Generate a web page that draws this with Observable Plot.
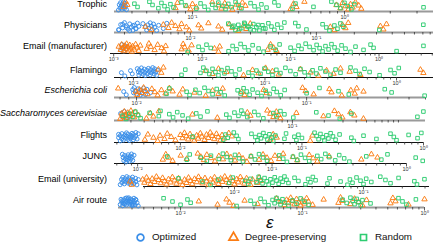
<!DOCTYPE html>
<html><head><meta charset="utf-8">
<script src="https://cdn.jsdelivr.net/npm/d3@7"></script>
<script src="https://cdn.jsdelivr.net/npm/@observablehq/plot@0.6"></script>
<style>
body{margin:0;background:#fff;font-family:"Liberation Sans",Arial,sans-serif;}
#chart{position:relative;width:436px;height:243px;overflow:hidden;background:#fff;}
.row{position:absolute;left:0;}
.lab{position:absolute;left:0;width:107px;text-align:right;font-size:9px;line-height:10px;color:#000;white-space:nowrap;}
.leg{position:absolute;font-size:9.8px;line-height:12px;color:#111;white-space:nowrap;}
</style></head><body><div id="chart"></div>
<script>
// ---------------- data ----------------
const datasets = ["Trophic","Physicians","Email (manufacturer)","Flamingo","Escherichia coli","Saccharomyces cerevisiae","Flights","JUNG","Email (university)","Air route"];
const italicNames = ["Escherichia coli","Saccharomyces cerevisiae"];
const seriesNames = ["Optimized","Degree-preserving","Random"];

// ε values, one list per data set (same order as datasets)
const optimized = [
  [0.0326,0.033,0.0334,0.0336,0.034,0.0344,0.0346,0.035,0.0352,0.0355,0.0357,0.036,0.0363,0.0368],
  [0.0027,0.0028,0.0029,0.003,0.0031,0.0032,0.0033,0.0034,0.0035,0.0036,0.0037,0.0038,0.0039,0.0027,0.0029,0.0031,0.0033,0.0035,0.0037,0.0042,0.0044,0.0045,0.0046,0.0047,0.0048,0.0049,0.005,0.0051,0.0052,0.0054,0.0056,0.0061,0.0065],
  [0.0012,0.00124,0.00128,0.0013,0.00134,0.00138],
  [0.0081,0.0086,0.0095,0.0098,0.0107,0.0109,0.011,0.0111,0.0113,0.0115,0.0117,0.0119,0.0121,0.0122,0.0123,0.0126,0.0128,0.013,0.0132,0.0134,0.0135,0.0137,0.014,0.0142,0.0144,0.0145,0.0147,0.015,0.0152],
  [0.0084,0.0087,0.0095,0.0096,0.0097,0.0099,0.01,0.0102,0.0103,0.0105,0.0106,0.0108,0.011,0.0111,0.0113,0.0115,0.0121],
  [0.0024,0.0025,0.0026,0.0027,0.0028],
  [0.0031,0.0031,0.0032,0.0032,0.0033,0.0033,0.0034,0.0034,0.0035,0.0035,0.0036,0.0036,0.0037,0.0037,0.0038,0.0038,0.0039,0.0039,0.004,0.004,0.0041,0.0041,0.0042,0.0043,0.0043,0.0044,0.0045],
  [0.0077,0.0078,0.0079,0.008,0.0081,0.0082,0.0083,0.0084,0.0085,0.0086,0.0087,0.0088,0.0089,0.009,0.0091,0.0092,0.0094],
  [0.0013,0.00133,0.00134,0.00136,0.00138,0.0014,0.00142,0.00144,0.00146,0.00148,0.0015,0.00152,0.00154,0.00156,0.00158,0.0016,0.00162,0.00164,0.00166,0.00171,0.00172,0.00175,0.0018],
  [0.0032,0.00325,0.0033,0.00335,0.0034,0.00345,0.0035,0.00355,0.0036,0.00365,0.0037,0.00375,0.0038,0.00385,0.0039,0.00395,0.004,0.00405,0.0041,0.00415,0.0042,0.00425,0.0043,0.0044,0.0045,0.0033,0.0035,0.0037,0.0039,0.0041,0.0043,0.0034,0.0036,0.0038,0.004]
];
const degreePreserving = [
  [0.0352,0.0362,0.0373,0.0773,0.0796,0.0914,0.097,0.1,0.106,0.135,0.148,0.155,0.163,0.168,0.183,0.195,0.204,0.213,0.223,0.442,0.462,0.483,0.545,0.885,0.94,0.97,1.016,1.06,1.095,1.13,1.18,1.24,1.29],
  [0.0044,0.0049,0.0061,0.0067,0.0071,0.0076,0.0082,0.0085,0.0093,0.0098,0.0116,0.0122,0.0139,0.0167,0.0179,0.0204,0.0215,0.024,0.0264,0.0278,0.0299,0.129,0.139,0.161,0.17,0.179,0.322,0.34,0.36],
  [0.00114,0.0012,0.00123,0.00126,0.0013,0.00133,0.00137,0.0014,0.00144,0.00148,0.00152,0.00156,0.0016,0.00164,0.0017,0.00177,0.00185,0.00192,0.002,0.00236,0.0025,0.00262,0.0029,0.00314,0.00348,0.0037,0.00387,0.00586,0.0061,0.00634,0.00703,0.0076,0.0138,0.0153,0.0158,0.055,0.0594,0.0643,0.0695],
  [0.0155,0.0163,0.0169,0.0353,0.0399,0.0443,0.0509,0.0687,0.0804,0.0893,0.101,0.114,0.127,0.186,0.222,0.255,0.294,0.332,0.375,0.44,0.532,1.52,1.6],
  [0.0078,0.0099,0.0101,0.0104,0.0107,0.011,0.0113,0.0116,0.0123,0.0128,0.0133,0.014,0.0148,0.0156,0.0163,0.0179,0.0187,0.0219,0.0255,0.028,0.0303,0.0321,0.0415,0.0432,0.0558,0.0582,0.0946,0.0987,0.11,0.136,0.14,0.161,0.182,0.192,0.197,0.216],
  [0.00238,0.00245,0.00255,0.0026,0.00265,0.00272,0.0028,0.0029,0.003,0.0031,0.0032,0.0033,0.00352,0.0042,0.00457,0.00489,0.0055,0.0114,0.0196,0.0376,0.0402,0.058,0.0619,0.0662,0.0706,0.074,0.0771,0.109,0.196,0.249,0.272,0.296,0.352,0.384,0.468],
  [0.0051,0.0054,0.006,0.0065,0.0068,0.0074,0.0078,0.0084,0.0091,0.01,0.0104,0.0108,0.0112,0.0116,0.012,0.0126,0.013,0.0136,0.014,0.0146,0.015,0.0158,0.0164,0.017,0.0176,0.0183,0.019,0.0198,0.0205,0.0213,0.022,0.023,0.025,0.0265,0.055,0.058,0.062,0.117,0.122],
  [0.0154,0.0162,0.017,0.0182,0.0209,0.0232,0.028,0.0295,0.0311,0.0327,0.0351,0.0376,0.0402,0.0431,0.0461,0.0494,0.053,0.0568,0.0608,0.065,0.0697,0.08,0.0857,0.0918,0.0984,0.105,0.113,0.121,0.143,0.154,0.189,0.202,0.217,0.266,0.461,0.548,0.608],
  [0.00155,0.0016,0.00194,0.002,0.00208,0.00215,0.00223,0.0023,0.0024,0.00248,0.00258,0.00268,0.00277,0.00287,0.00297,0.00308,0.00319,0.0033,0.00343,0.00355,0.00368,0.0038,0.00395,0.0041,0.00425,0.0044,0.00456,0.0047,0.0049,0.0051,0.00526,0.0055,0.00565,0.0059,0.00607,0.0063,0.00652,0.0068,0.007,0.0073,0.00752,0.0078,0.00807,0.0084,0.00867,0.009,0.00931,0.0097,0.01,0.0104,0.0107,0.0111,0.0115,0.0119,0.0124,0.0128,0.0133,0.0138,0.015,0.0155,0.016],
  [0.0141,0.0201,0.0238,0.0252,0.0272,0.0335,0.0428,0.0612,0.066,0.0711,0.074,0.0767,0.08,0.0827,0.086,0.0893,0.093,0.0964,0.1,0.104,0.108,0.112,0.121,0.149,0.197,0.205,0.213,0.247,0.267,0.288,0.31,0.335,0.526,0.55,0.578,0.739,1.0]
];
const random = [
  [0.0415,0.0435,0.0521,0.0546,0.0597,0.0625,0.0655,0.0686,0.0716,0.075,0.0847,0.0899,0.106,0.113,0.12,0.127,0.135,0.142,0.148,0.157,0.165,0.172,0.181,0.192,0.201,0.21,0.241,0.256,0.272,0.284,0.307,0.346,0.368,0.455,0.476,0.625,0.82,0.885,0.94,1.0,1.05,1.11,1.16,3.31],
  [0.02,0.0215,0.0228,0.024,0.0254,0.0268,0.0283,0.0299,0.0316,0.0334,0.0353,0.0373,0.0394,0.0416,0.044,0.0464,0.049,0.0527,0.0557,0.022,0.0245,0.027,0.029,0.032,0.0345,0.038,0.068,0.072,0.0834,0.112,0.12,0.127,0.139,0.147,0.155,0.164,0.316,0.706],
  [0.00686,0.00912,0.0101,0.0112,0.0125,0.0199,0.0221,0.0245,0.0272,0.0302,0.0335,0.0372,0.0435,0.0495,0.0594,0.0677,0.0751,0.1,0.111,0.123,0.133,0.148,0.164,0.182,0.197,0.213,0.23,0.248,0.269,0.29,0.314,0.34,0.377,0.418,0.476,0.542,0.668,0.802,0.867,1.58,3.18],
  [0.0232,0.0248,0.0323,0.034,0.0359,0.0378,0.0399,0.042,0.0443,0.0467,0.0492,0.0519,0.0556,0.0597,0.064,0.075,0.0804,0.0861,0.0925,0.0991,0.106,0.114,0.122,0.131,0.143,0.156,0.171,0.186,0.2,0.214,0.23,0.246,0.264,0.288,0.315,0.344,0.375,0.447,0.488,0.523,0.571,0.624,0.743,0.9,0.966,1.04],
  [0.015,0.0156,0.0197,0.0205,0.0222,0.0235,0.0251,0.0265,0.028,0.0296,0.0312,0.033,0.0393,0.0409,0.0426,0.0444,0.0462,0.0481,0.0515,0.0543,0.0574,0.0606,0.064,0.0667,0.0704,0.0743,0.1,0.119,0.154,0.177,0.288,0.316,0.494],
  [0.0025,0.0027,0.0029,0.0031,0.0033,0.0035,0.0037,0.0045,0.0055,0.0057,0.0069,0.0075,0.0082,0.0092,0.0104,0.0124,0.0136,0.0158,0.0238,0.0255,0.0284,0.031,0.033,0.0345,0.0376,0.0438,0.0478,0.0532,0.0662,0.0706,0.0771,0.0841,0.102,0.168,0.219,0.28,0.36,1.51,1.72],
  [0.0126,0.0225,0.0235,0.0245,0.0275,0.029,0.03,0.0384,0.0414,0.043,0.0447,0.046,0.0482,0.05,0.052,0.054,0.0561,0.058,0.0605,0.0718,0.074,0.0867,0.09,0.0935,0.1,0.127,0.132,0.137,0.142,0.148,0.153,0.159,0.165,0.172,0.18,0.189,0.204,0.255,0.267,0.321,0.41,0.535,0.57,0.6,0.754,0.893,0.96],
  [0.0166,0.0232,0.0244,0.0295,0.0327,0.0351,0.0402,0.0431,0.0461,0.0494,0.053,0.0568,0.0608,0.0697,0.0747,0.08,0.0857,0.0918,0.113,0.121,0.129,0.143,0.154,0.164,0.176,0.189,0.217,0.232,0.249,0.266,0.295,0.316,0.344,0.376,0.502,0.65,0.722,1.17,1.32],
  [0.00368,0.00565,0.00652,0.0075,0.0091,0.0097,0.0121,0.0128,0.0133,0.0148,0.0154,0.0159,0.0165,0.0171,0.0178,0.0184,0.019,0.0197,0.0205,0.0212,0.022,0.0228,0.0236,0.0244,0.0253,0.0262,0.0292,0.0313,0.0355,0.0372,0.0388,0.0405,0.0425,0.0526,0.0545,0.0664,0.0752,0.0785,0.0822,0.0883,0.0948,0.1,0.105,0.115,0.135,0.148,0.162,0.187,0.248,0.26,0.297],
  [0.00726,0.00859,0.01,0.0114,0.0121,0.0288,0.0375,0.0404,0.0453,0.0489,0.0526,0.0568,0.059,0.0612,0.0636,0.066,0.0685,0.0711,0.0767,0.0827,0.0893,0.0964,0.104,0.112,0.213,0.23,0.247,0.258,0.267,0.278,0.288,0.3,0.31,0.361,0.612,0.66,0.711,0.85]
];

// x-axis extent (ε) of each row and the decades that carry a tick label
const axisDomain = [[0.0307,3.85],[0.0025,0.85],[0.00092,4.13],[0.00718,1.91],[0.00742,0.5],[0.0021,1.8],[0.00287,1.0],[0.00673,1.0],[0.00197,0.325],[0.0031,1.0]];
const labelExponents = [[-1,0],[-2,-1],[-3,-2,-1,0],[-2,-1,0],[-2,-1],[-1],[-2,-1,0],[-2,-1,0],[-2,-1],[-2,-1,0]];

// ---------------- layout / style ----------------
const axisPx = [[114,433],[114,433],[110,433],[114,433],[114,425],[114,425],[114,423],[114,406],[143,429],[118,424]];
const axisTop = [11,32,53,77,97,120,142,163,186,207];
const grayAxis = [true,true,false,false,true,true,false,false,false,true];
const colors = ["#3a8ee8","#fb7c13","#2ecc71"];
const symbols = ["circle","triangle","square"];

const W = 436, H = 26, MB = 10;
const chart = document.getElementById("chart");
const supDigits = "⁰¹²³⁴⁵⁶⁷⁸⁹";
const sup = d => {
  const e = Math.round(Math.log10(d));
  return "10" + String(e).replace("-", "⁻").replace(/\d/g, c => supDigits[+c]);
};
const seriesValues = [optimized, degreePreserving, random];

datasets.forEach((name, r) => {
  const [x0, x1] = axisPx[r];
  const [lo, hi] = axisDomain[r];
  const pts = [];
  seriesValues.forEach((vals, k) => {
    vals[r].forEach((v, i) => {
      const t = (i * 0.6180339887 + k * 0.37 + r * 0.13) % 1;
      pts.push({eps: v, jit: 0.15 + 0.85 * t, series: seriesNames[k]});
    });
  });
  const majors = labelExponents[r].map(e => Math.pow(10, e));
  const minors = d3.scaleLog().domain([lo, hi]).ticks()
    .filter(t => !majors.some(m => Math.abs(t - m) / m < 1e-6));
  const svg = Plot.plot({
    width: W, height: H,
    marginLeft: x0, marginRight: W - x1, marginTop: 0, marginBottom: MB,
    x: {type: "log", domain: [lo, hi], label: null},
    y: {domain: [0, 1], range: [H - MB, H - MB - 10], axis: null, label: null},
    symbol: {domain: seriesNames, range: symbols},
    color: {domain: seriesNames, range: colors},
    style: {background: "transparent", overflow: "visible", fontFamily: "Liberation Sans, Arial, sans-serif"},
    marks: [
      Plot.ruleY([0], {stroke: grayAxis[r] ? "#9a9a9a" : "#111", strokeWidth: grayAxis[r] ? 2 : 1.1}),
      Plot.axisX({ticks: minors, tickSize: 2.5, tickFormat: () => "", label: null, stroke: "#333", strokeWidth: 0.8}),
      Plot.axisX({ticks: majors, tickSize: 3.5, tickPadding: 0.5, tickFormat: sup, label: null, fontSize: 5.5, fill: "#333", stroke: "#333", strokeWidth: 0.8}),
      Plot.dot(pts, {x: "eps", y: "jit", symbol: "series", stroke: "series", r: 2.0, strokeWidth: 0.95, fill: "none"})
    ]
  });
  svg.classList.add("row");
  svg.style.top = (axisTop[r] - (H - MB)) + "px";
  svg.style.maxWidth = "none";
  chart.appendChild(svg);

  const lab = document.createElement("div");
  lab.className = "lab";
  lab.textContent = name;
  if (italicNames.includes(name)) lab.style.fontStyle = "italic";
  lab.style.top = (axisTop[r] - 6.5 - 5.5) + "px";
  chart.appendChild(lab);
});

// axis title
const eps = document.createElement("div");
eps.className = "leg";
eps.textContent = "ε";
eps.style.cssText += "left:266px;top:214px;font-size:17px;line-height:18px;font-style:italic;";
chart.appendChild(eps);

// legend
const legX = [140, 233, 363];
seriesNames.forEach((s, k) => {
  const sw = Plot.plot({
    width: 12, height: 12, margin: 0,
    x: {domain: [0, 1], axis: null}, y: {domain: [0, 1], axis: null},
    symbol: {domain: seriesNames, range: symbols},
    color: {domain: seriesNames, range: colors},
    style: {background: "transparent", overflow: "visible"},
    marks: [Plot.dot([s], {x: () => 0.5, y: () => 0.5, symbol: d => d, stroke: d => d, r: 3.4, strokeWidth: 1.7, fill: "none"})]
  });
  sw.style.position = "absolute";
  sw.style.left = (legX[k] - 6) + "px";
  sw.style.top = "231px";
  chart.appendChild(sw);
  const t = document.createElement("div");
  t.className = "leg";
  t.textContent = s;
  t.style.left = (legX[k] + 12) + "px";
  t.style.top = "231px";
  chart.appendChild(t);
});
</script></body></html>
